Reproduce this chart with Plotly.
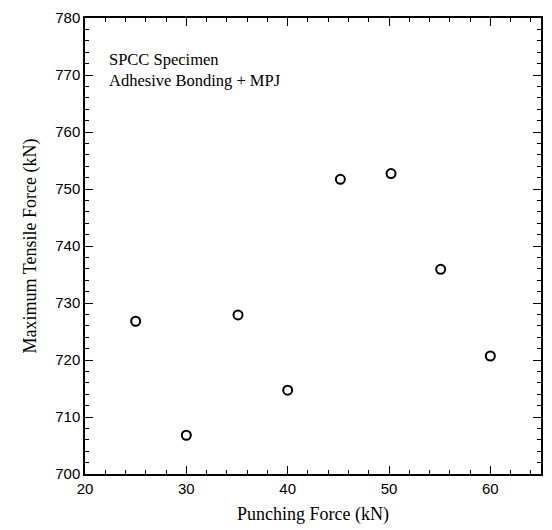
import plotly.graph_objects as go

punching_force = [25, 30, 35.1, 40, 45.2, 50.2, 55.1, 60]
max_tensile = [726.8, 706.8, 727.9, 714.7, 751.7, 752.7, 735.9, 720.7]

x_ticks = [20, 30, 40, 50, 60]
y_ticks = [700, 710, 720, 730, 740, 750, 760, 770, 780]

fig = go.Figure()
fig.add_trace(go.Scatter(
    x=punching_force, y=max_tensile, mode="markers",
    marker=dict(symbol="circle-open", size=9, color="black", line=dict(width=2, color="black")),
    showlegend=False,
))

axis_common = dict(
    showgrid=False, zeroline=False, showline=True, linecolor="black", linewidth=1.5,
    mirror="ticks", ticks="inside", ticklen=8, tickcolor="black", tickwidth=1,
    tickfont=dict(family="Liberation Sans", size=15, color="black"),
    title_font=dict(family="Liberation Serif, Times New Roman", size=18, color="black"),
)

fig.update_xaxes(
    range=[20, 65], tickvals=x_ticks,
    minor=dict(dtick=2, ticks="inside", ticklen=4, tickcolor="black"),
    title_text="Punching Force (kN)", title_standoff=12,
    **axis_common,
)
fig.update_yaxes(
    range=[700, 780], tickvals=y_ticks,
    minor=dict(dtick=2, ticks="inside", ticklen=4, tickcolor="black"),
    title_text="Maximum Tensile Force (kN)", title_standoff=14,
    **axis_common,
)

notes = ["SPCC Specimen", "Adhesive Bonding + MPJ"]
note_y = [0.910, 0.862]
for txt, yy in zip(notes, note_y):
    fig.add_annotation(
        xref="paper", yref="paper", x=0.048, y=yy, xanchor="left", yanchor="middle",
        text=txt, showarrow=False, align="left",
        font=dict(family="Liberation Serif, Times New Roman", size=16.5, color="black"),
    )

fig.update_layout(
    width=552, height=530,
    margin=dict(l=85, r=9, t=18, b=54),
    paper_bgcolor="white", plot_bgcolor="white",
)

fig.write_html("out.html")
